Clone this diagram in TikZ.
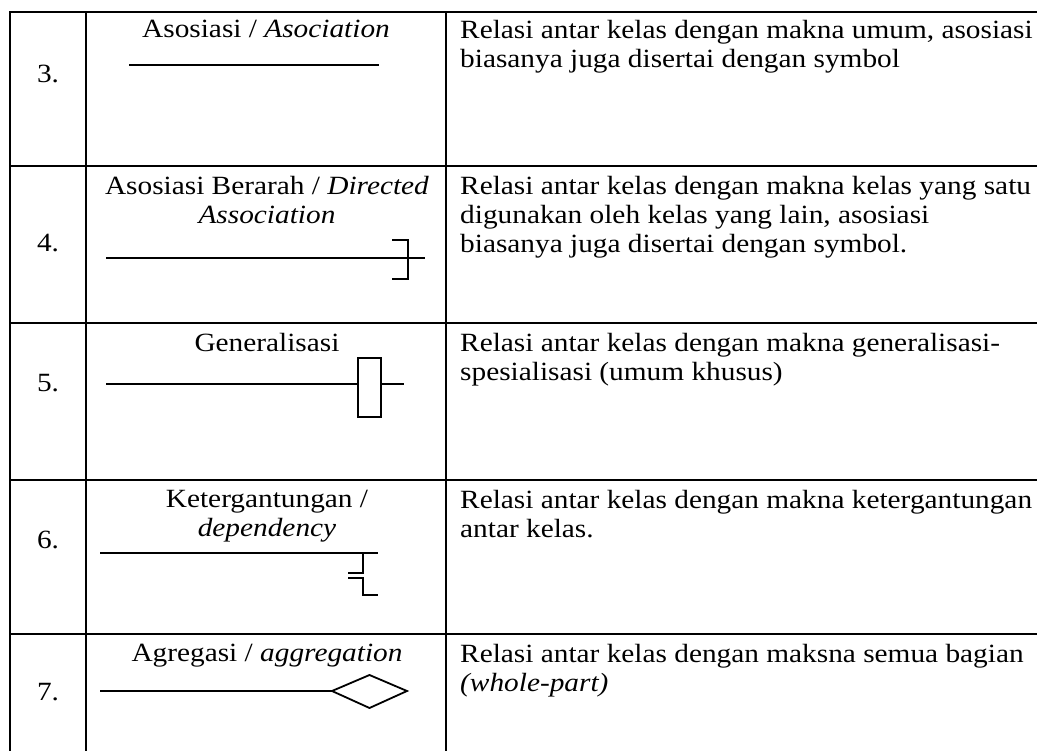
\documentclass[tikz,border=0pt]{standalone}
\usepackage{fontspec}
\setmainfont{Liberation Serif}[FakeStretch=1.115]
\usetikzlibrary{positioning}

\tikzset{
  tabline/.style={line width=2.6pt},
  symline/.style={line width=1.8pt},
  cell/.style={font=\fontsize{26.3}{28.8}\selectfont, inner sep=0pt},
  desc/.style={cell, anchor=north west, align=left},
  title/.style={cell, anchor=north, align=center}
}

\begin{document}
\begin{tikzpicture}[x=1pt,y=-1pt]
\useasboundingbox (0,0) rectangle (1037,751);
% table
\draw [tabline] (10,751) -- (10,12) -- (1037,12);
\draw [tabline] (86,12) -- (86,751);
\draw [tabline] (446,12) -- (446,751);
\foreach \y in {166,323,480,634}
    \draw [tabline] (10,\y) -- (1037,\y);
% numbers
\node [cell] (num3) at (48,74) {3.};
\node [cell] (num4) at (48,243) {4.};
\node [cell] (num5) at (48,383) {5.};
\node [cell] (num6) at (48,540) {6.};
\node [cell] (num7) at (48,692) {7.};
% names
\node [title] (name3) at (266,20) {Asosiasi / \textit{Asociation}};
\node [title] (name4) at (267,176) {Asosiasi Berarah / \textit{Directed}\\\textit{Association}};
\node [title] (name5) at (267,333) {Generalisasi};
\node [title] (name6) at (267,490) {Ketergantungan /\\\textit{dependency}};
\node [title] (name7) at (267,644) {Agregasi / \textit{aggregation}};
% descriptions
\node [desc] (desc3) at (460,20) {Relasi antar kelas dengan makna umum, asosiasi\\biasanya juga disertai dengan symbol};
\node [desc] (desc4) at (460,176) {Relasi antar kelas dengan makna kelas yang satu\\digunakan oleh kelas yang lain, asosiasi\\biasanya juga disertai dengan symbol.};
\node [desc] (desc5) at (460,333) {Relasi antar kelas dengan makna generalisasi-\\spesialisasi (umum khusus)};
\node [desc] (desc6) at (460,490) {Relasi antar kelas dengan makna ketergantungan\\antar kelas.};
\node [desc] (desc7) at (460,644) {Relasi antar kelas dengan maksna semua bagian\\\textit{(whole-part)}};
% symbols
\draw [symline] (129,65) -- (379,65);
\draw [symline] (106,258) -- (425,258);
\draw [symline] (392,240) -- (408,240) -- (408,279) -- (392,279);
\draw [symline] (106,384) -- (358,384);
\draw [symline] (358,358) rectangle (381,417);
\draw [symline] (381,384) -- (404,384);
\draw [symline] (100,553) -- (378,553);
\draw [symline] (363,553) -- (363,573) -- (348,573);
\draw [symline] (348,578) -- (363,578) -- (363,595) -- (378,595);
\draw [symline] (100,691) -- (332,691);
\draw [symline] (332,691) -- (369.5,675) -- (407,691) -- (369.5,708) -- cycle;
\end{tikzpicture}
\end{document}
